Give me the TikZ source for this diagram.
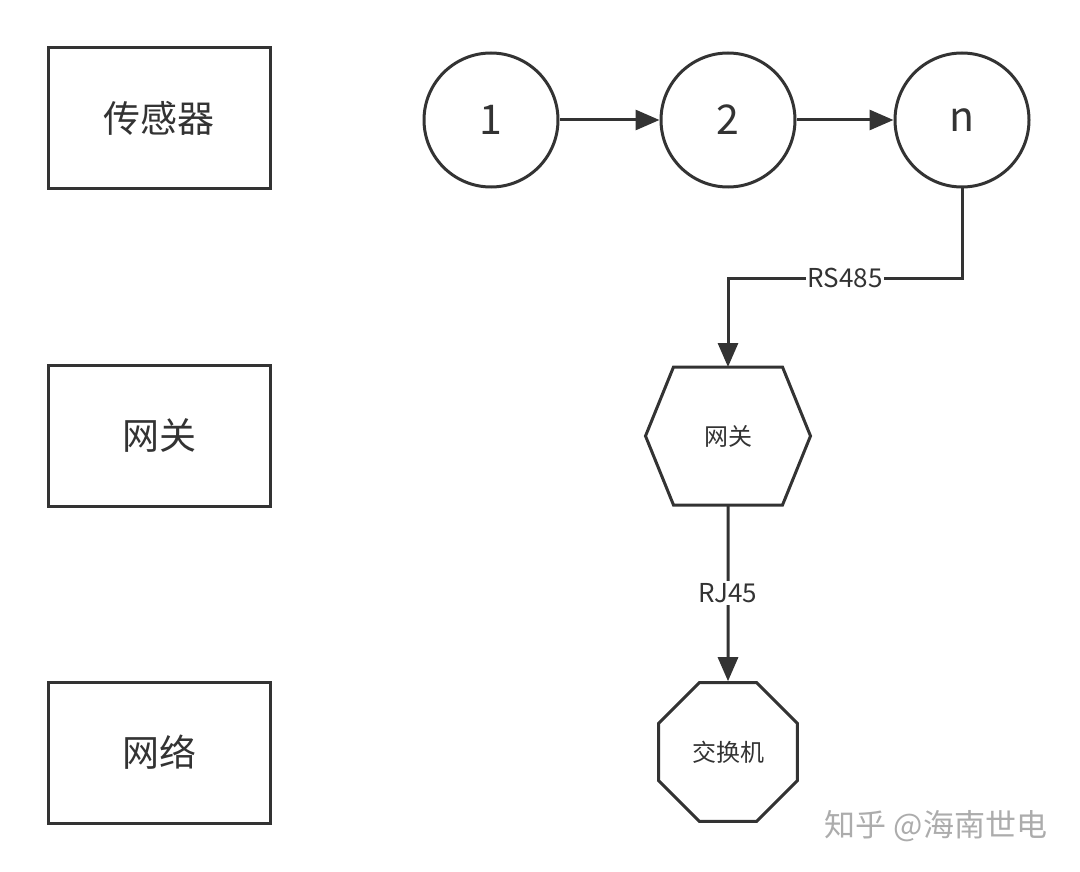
\documentclass[tikz,border=0pt]{standalone}
\usepackage{fontspec}
\setmainfont{Noto Sans CJK SC}
\usepackage{xcolor}
\usetikzlibrary{shapes,arrows,positioning,calc,arrows.meta}
\definecolor{ink}{HTML}{333333}

\begin{document}
\begin{tikzpicture}[x=1pt, y=-1pt, line width=3pt, color=ink,
    layer/.style={draw, minimum width=222pt, minimum height=141pt, font=\fontsize{37}{40}\selectfont},
    dev/.style={draw, circle, minimum size=134pt, font=\fontsize{41}{44}\selectfont},
    small/.style={font=\fontsize{24}{26}\selectfont},
    conn/.style={-{Triangle[length=24pt,width=20pt]}},
    tag/.style={fill=white, inner sep=2pt, font=\fontsize{26}{28}\selectfont}]
    \useasboundingbox (0,0) rectangle (1080,872);

    % Layers
    \node[layer] (sensor) at (159,118.5) {传感器};
    \node[layer] (gwlayer) at (159,435.5) {网关};
    \node[layer] (net) at (159,752.5) {网络};

    % Sensors
    \node[dev] (d1) at (491,120) {1};
    \node[dev] (d2) at (728,120) {2};
    \node[dev] (dn) at (962,120) {n};

    % Gateway
    \node[small, minimum width=165pt, minimum height=138pt, inner sep=0pt, outer sep=0pt] (gw) at (728,436) {网关};
    \draw (gw.west) -- ($(gw.north west)+(28,0)$) -- ($(gw.north east)+(-28,0)$) -- (gw.east)
        -- ($(gw.south east)+(-28,0)$) -- ($(gw.south west)+(28,0)$) -- cycle;

    % Switch
    \node[small, draw, regular polygon, regular polygon sides=8, minimum size=150pt, inner sep=0pt] (sw) at (728,752) {交换机};

    \draw[conn] (d1) -- (d2);
    \draw[conn] (d2) -- (dn);
    \coordinate (turn) at (962,278);
    \draw[conn] (dn.south) -- (turn) -| node[tag, pos=0.25] {RS485} (gw.north);
    \draw[conn] (gw.south) -- node[tag] {RJ45} (sw.north);

    \node[text=gray!65, font=\fontsize{31}{33}\selectfont] (mark) at (936,826) {知乎 @海南世电};
\end{tikzpicture}
\end{document}
